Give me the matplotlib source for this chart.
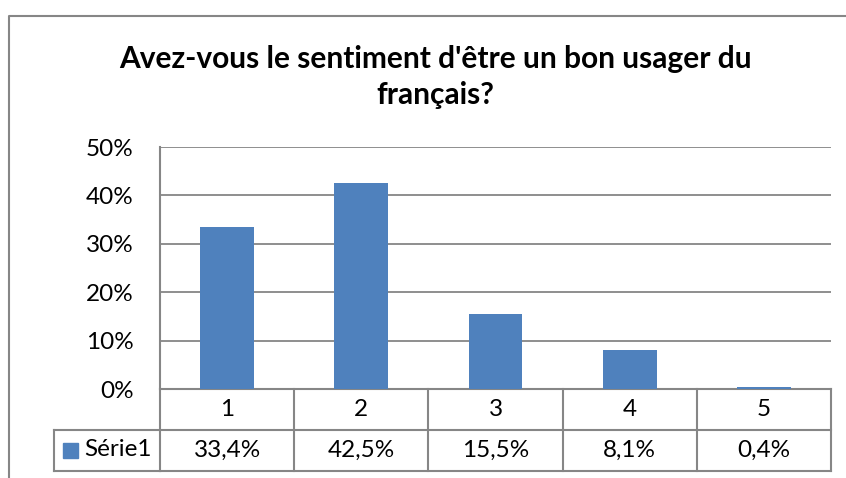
import matplotlib
matplotlib.use("Agg")
import matplotlib.pyplot as plt
from matplotlib.lines import Line2D
from matplotlib.patches import Rectangle
import matplotlib.transforms as mtransforms

categories = ["1", "2", "3", "4", "5"]
values = [33.4, 42.5, 15.5, 8.1, 0.4]
value_labels = ["33,4%", "42,5%", "15,5%", "8,1%", "0,4%"]
yticks = [0, 10, 20, 30, 40, 50]
ytick_labels = ["0%", "10%", "20%", "30%", "40%", "50%"]
series_name = "Série1"
title = "Avez-vous le sentiment d'être un bon usager du\nfrançais?"

W, H = 846, 478
plt.rcParams['font.family'] = ['Lato', 'DejaVu Sans']
fig = plt.figure(figsize=(W / 100, H / 100), dpi=100)

GRAY = "#868686"
BLUE = "#4F81BD"
FS = 17.5

def fx(px):
    return px / W

def fy(py):
    return 1 - py / H

# outer chart frame (partially cropped)
fig.add_artist(Line2D([fx(8.5), fx(8.5), 1.0], [0.0, fy(15.5), fy(15.5)],
                      transform=fig.transFigure, color=GRAY, lw=1.5))

left, right, top, bottom = 160, 831, 147, 389
ax = fig.add_axes([fx(left), fy(bottom), fx(right - left), (bottom - top) / H])
x = list(range(1, len(categories) + 1))
ax.bar(x, values, width=0.4, color=BLUE, zorder=3)
ax.set_xlim(0.5, len(categories) + 0.5)
ax.set_ylim(0, 50)
ax.set_yticks(yticks)
ax.set_yticklabels(ytick_labels, fontsize=FS)
ax.tick_params(axis='y', length=0, pad=19)
ax.set_xticks([])
for s in ['top', 'right', 'bottom']:
    ax.spines[s].set_visible(False)
ax.spines['left'].set_color(GRAY)
ax.spines['left'].set_linewidth(1.5)
ax.yaxis.grid(True, color=GRAY, lw=1.3, zorder=0)
ax.set_axisbelow(True)

# title
fig.text(fx(435), fy(77), title, ha='center', va='center', fontsize=21.5,
         fontweight='bold', linespacing=1.35)

# data table
row_h = 41 / (bottom - top)
trans = mtransforms.blended_transform_factory(ax.transData, ax.transAxes)
lkw = dict(color=GRAY, lw=1.5, clip_on=False, transform=trans)
n = len(categories)
ax.add_line(Line2D([0.5, n + 0.5], [-row_h, -row_h], **lkw))
ax.add_line(Line2D([0.5, n + 0.5], [-2 * row_h, -2 * row_h], **lkw))
ax.add_line(Line2D([0.5, n + 0.5], [0, 0], **lkw))
for k in range(n + 1):
    ax.add_line(Line2D([0.5 + k, 0.5 + k], [0, -2 * row_h], **lkw))
leg_left_axes = (54 - left) / (right - left)
for yy in (-row_h, -2 * row_h):
    ax.add_line(Line2D([leg_left_axes, 0], [yy, yy], color=GRAY, lw=1.5,
                       clip_on=False, transform=ax.transAxes))
ax.add_line(Line2D([leg_left_axes, leg_left_axes], [-row_h, -2 * row_h], color=GRAY,
                   lw=1.5, clip_on=False, transform=ax.transAxes))
for i, (c, v) in enumerate(zip(categories, value_labels)):
    ax.text(i + 1, -0.5 * row_h, c, transform=trans, ha='center', va='center', fontsize=FS)
    ax.text(i + 1, -1.5 * row_h, v, transform=trans, ha='center', va='center', fontsize=FS)
fig.add_artist(Rectangle((fx(63), fy(458)), fx(14.5), 15 / H, transform=fig.transFigure,
                         color=BLUE))
fig.text(fx(84), fy(450), series_name, ha='left', va='center', fontsize=FS)

fig.savefig("out.png", dpi=100, facecolor="white")
